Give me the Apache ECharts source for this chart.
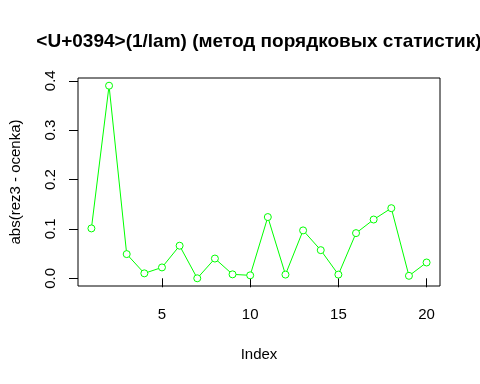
<!DOCTYPE html>
<html><head><meta charset="utf-8">
<script src="https://cdn.jsdelivr.net/npm/echarts@6/dist/echarts.min.js"></script>
<style>html,body{margin:0;padding:0;background:#fff}#c{width:480px;height:384px}</style>
</head><body><div id="c"></div>
<script>
var titleText = "<U+0394>(1/lam) (метод порядковых статистик)";
var xName = "Index";
var yName = "abs(rez3 - ocenka)";
var indexValues = [1,2,3,4,5,6,7,8,9,10,11,12,13,14,15,16,17,18,19,20];
var errValues = [0.101,0.390,0.049,0.010,0.022,0.066,0.000,0.040,0.008,0.006,0.124,0.0075,0.097,0.057,0.0075,0.0915,0.119,0.142,0.005,0.032];
var xTicks = [5,10,15,20];
var yTicks = [0,0.1,0.2,0.3,0.4];

var data = indexValues.map(function(x,i){return [x, errValues[i]];});
var font = "Liberation Sans, Arial, sans-serif";
var chart = echarts.init(document.getElementById('c'), null, {renderer:'canvas'});
chart.setOption({
  backgroundColor:'#ffffff',
  animation:false,
  graphic:[{type:'text', x:259, y:32, style:{text:titleText, font:'bold 19px '+font, fill:'#000', textAlign:'center', textVerticalAlign:'top'}}],
  grid:{left:78,right:40,top:78,bottom:98,show:true,borderColor:'#000',borderWidth:1,backgroundColor:'transparent'},
  xAxis:{type:'value',min:0.24,max:20.76,name:xName,nameLocation:'middle',nameGap:61,
    nameTextStyle:{fontFamily:font,fontSize:15,color:'#000'},
    axisLine:{show:false},splitLine:{show:false},
    axisTick:{show:true,customValues:xTicks,length:9,lineStyle:{color:'#000'}},
    axisLabel:{customValues:xTicks,fontFamily:font,fontSize:15,color:'#000',margin:21}},
  yAxis:{type:'value',min:-0.0156,max:0.4056,name:yName,nameLocation:'middle',nameGap:55,nameRotate:90,
    nameTextStyle:{fontFamily:font,fontSize:15,color:'#000'},
    axisLine:{show:false},splitLine:{show:false},
    axisTick:{show:true,customValues:yTicks,length:9,lineStyle:{color:'#000'}},
    axisLabel:{customValues:yTicks,rotate:90,fontFamily:font,fontSize:15,color:'#000',margin:20,
      formatter:function(v){return v.toFixed(1);}}},
  series:[{type:'line',data:data,symbol:'circle',symbolSize:7,
    lineStyle:{color:'#00ff00',width:1},itemStyle:{color:'#ffffff',borderColor:'#00ff00',borderWidth:1},
    emphasis:{disabled:true}}]
});
</script></body></html>
